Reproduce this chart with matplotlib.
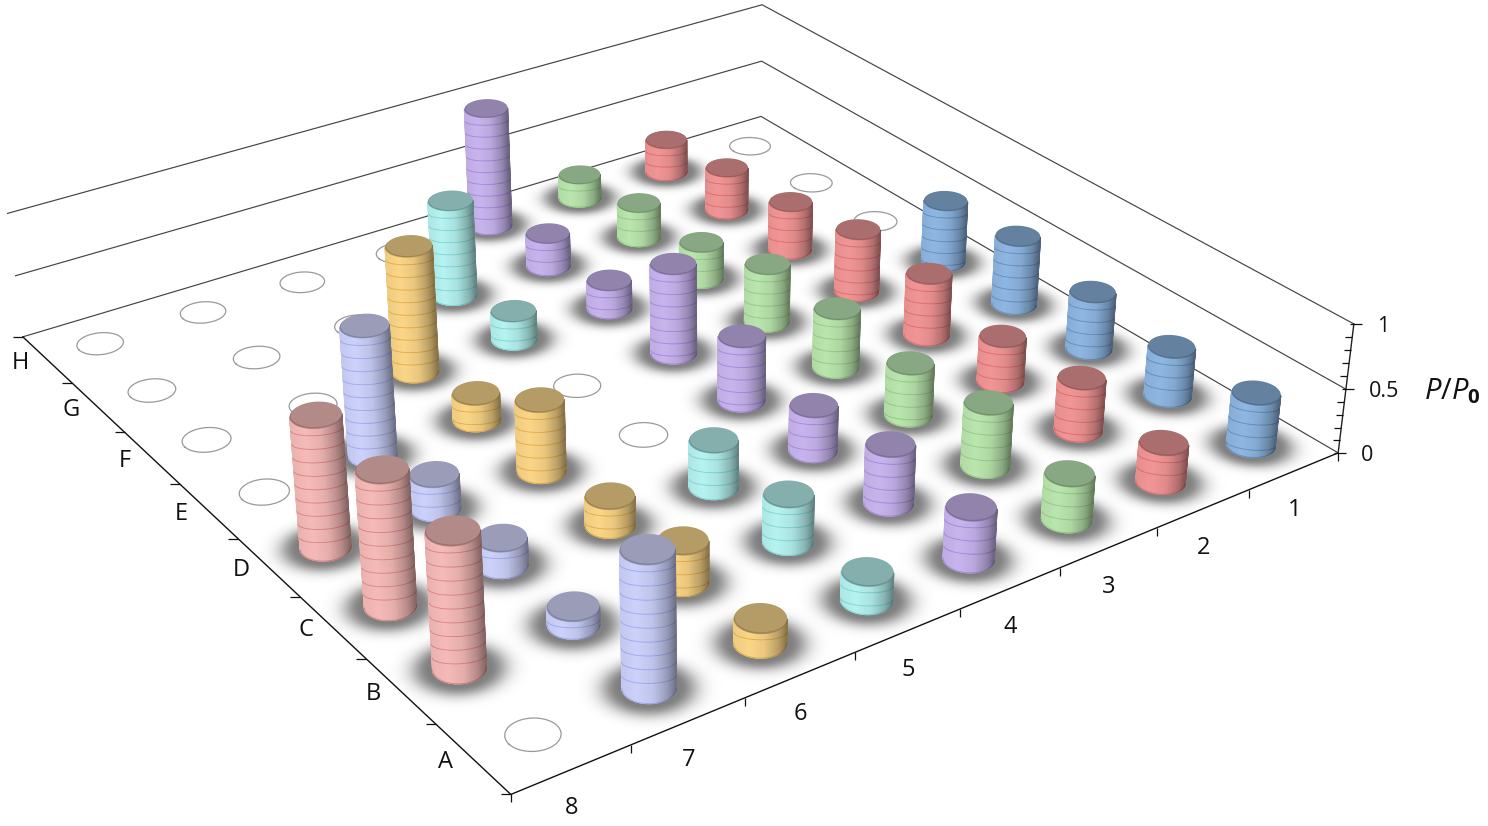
import numpy as np
import matplotlib
matplotlib.use("Agg")
import matplotlib.pyplot as plt
from matplotlib.collections import PolyCollection, LineCollection

plt.rcParams['font.family'] = ['Open Sans', 'DejaVu Sans']
plt.rcParams['mathtext.fontset'] = 'custom'
plt.rcParams['mathtext.it'] = 'Open Sans:italic'
plt.rcParams['mathtext.bf'] = 'Open Sans:bold'
plt.rcParams['mathtext.rm'] = 'Open Sans'

row_labels = ['A', 'B', 'C', 'D', 'E', 'F', 'G', 'H']
col_labels = ['1', '2', '3', '4', '5', '6', '7', '8']
z_major = [0, 0.5, 1]
z_major_labels = ['0', '0.5', '1']

# P/P0 per well, rows A to H, 0 = empty well
col1 = [0.41, 0.39, 0.46, 0.56, 0.51, 0, 0, 0]
col2 = [0.30, 0.41, 0.36, 0.50, 0.51, 0.40, 0.36, 0.28]
col3 = [0.35, 0.49, 0.41, 0.47, 0.47, 0.30, 0.29, 0.20]
col4 = [0.39, 0.45, 0.35, 0.51, 0.72, 0.23, 0.27, 0.99]
col5 = [0.21, 0.36, 0.36, 0, 0, 0.23, 0.78, 0]
col6 = [0.18, 0.31, 0.22, 0.55, 0.21, 1.00, 0, 0]
col7 = [0.99, 0.13, 0.20, 0.26, 1.00, 0, 0, 0]
col8 = [0, 0.99, 1.00, 0.99, 0, 0, 0, 0]
columns = [col1, col2, col3, col4, col5, col6, col7, col8]

# body, top, line colours of each column
body_colors = ['#8FB7E2', '#F29696', '#BBE6AE', '#C8B5EE', '#B6F3F1', '#FBD688', '#CCD2FB', '#F6BBB8']
top_colors = ['#64829F', '#AB6E6E', '#87A882', '#9183AC', '#85AFAC', '#B59B66', '#9A9CB8', '#B28B88']
line_colors = ['#5F8CC0', '#E06A6A', '#8FCC80', '#A585E0', '#78D6D3', '#E5AC40', '#9FA7F0', '#DE8080']

# camera calibration: box coordinates -> picture pixels
calib_world = np.array([[0, 0, 0], [0, 0, .5], [0, 0, 1], [0, 8, 0], [0, 8, .5], [0, 8, 1],
                        [8, 8, 0], [8, 8, .5], [8, 8, 1], [8, 0, 0],
                        [7.5, .5, 0], [7.5, 7.5, 0], [.5, 7.5, 0], [.5, 6.5, 0]], float)
calib_px = np.array([[1338, 453], [1346, 389], [1354, 324], [761, 116], [761.5, 61.5], [762, 5],
                     [23, 337], [15, 276], [7, 213], [511, 794],
                     [532.7, 735], [100, 344], [750.3, 146], [811.3, 182.7]], float)

rows = []
for (X, Y, Z), (u, v) in zip(calib_world, calib_px / 1000):
    rows.append([X, Y, Z, 1, 0, 0, 0, 0, -u * X, -u * Y, -u * Z, -u])
    rows.append([0, 0, 0, 0, X, Y, Z, 1, -v * X, -v * Y, -v * Z, -v])
P = np.linalg.svd(np.array(rows))[2][-1].reshape(3, 4)
P[:2] *= 1000
cam = np.linalg.svd(P)[2][-1]
cam = cam[:3] / cam[3]


def project(x, y, z):
    x, y, z = np.broadcast_arrays(x, y, z)
    h = P @ np.vstack([x.ravel(), y.ravel(), z.ravel(), np.ones(x.size)])
    return np.column_stack([h[0] / h[2], h[1] / h[2]])


def circle(x0, y0, z, r, th):
    return project(x0 + r * np.cos(th), y0 + r * np.sin(th), z)


def flatten(arc, k=0.5):
    # disc lines sag less than the rim
    a, b = arc[0], arc[-1]
    s = (arc[:, 0] - a[0]) / (b[0] - a[0])
    chord = a + np.outer(s, b - a)
    return chord + k * (arc - chord)


fig = plt.figure(figsize=(14.88, 8.26), dpi=100)
ax = fig.add_axes([0, 0, 1, 1])
ax.set_xlim(0, 1488)
ax.set_ylim(826, 0)
ax.axis('off')

# walls and floor edges
wall = []
for z in z_major:
    wall.append(project([8, 0, 0], [8, 8, 0], z))
ax.add_collection(LineCollection(wall, colors='#444444', linewidths=0.85, zorder=1))
edge = project([0, 8, 8], [0, 0, 8], 0)
ax.plot(edge[:, 0], edge[:, 1], color='#111111', lw=1.0, zorder=3)
zaxis = project([0, 0], [0, 0], [0, 1])
ax.plot(zaxis[:, 0], zaxis[:, 1], color='#222222', lw=1.0, zorder=3)

# ticks
segs = []
for k in range(9):
    a = project(k, 0, 0)[0]
    segs.append([a, a + [0, 8]])
    b = project(8, k, 0)[0]
    segs.append([b, b + [-10, 0]])
for k in range(11):
    a = project(0, 0, k / 10)[0]
    if k % 5 == 0:
        segs.append([a + [-4, 0], a + [8, 0]])
    else:
        segs.append([a, a + [-7, 0]])
ax.add_collection(LineCollection(segs, colors='#111111', linewidths=0.9, zorder=3))

for k, lab in enumerate(col_labels):
    a = project(k + .5, 0, 0)[0]
    ax.text(a[0], a[1] + 39, lab, fontsize=17, ha='center', va='center', color='#111111')
for k, lab in enumerate(row_labels):
    a = project(8, k + .5, 0)[0]
    ax.text(a[0] - 27, a[1] + 3, lab, fontsize=17, ha='center', va='center', color='#111111')
for z, lab in zip(z_major, z_major_labels):
    a = project(0, 0, z)[0]
    ax.text(a[0] + 23, a[1] + 2.5, lab, fontsize=15.5, ha='left', va='center', color='#111111')
ax.text(1452, 391, r'$P/P_{\mathbf{0}}$', fontsize=21, ha='center', va='center', color='#111111')

radius = 0.197
th_full = np.linspace(0, 2 * np.pi, 73)
shade_t = [0, 0.3, 0.6, 0.85, 1]
shade_f = [0.95, 1.0, 0.93, 0.74, 0.55]

# soft shadows: floor coordinates of every pixel, then distance to each loaded well
H_inv = np.linalg.inv(P[:, [0, 1, 3]])
px, py = np.meshgrid(np.arange(1488) + .5, np.arange(826) + .5)
fx = H_inv[0, 0] * px + H_inv[0, 1] * py + H_inv[0, 2]
fy = H_inv[1, 0] * px + H_inv[1, 1] * py + H_inv[1, 2]
fw = H_inv[2, 0] * px + H_inv[2, 1] * py + H_inv[2, 2]
fx, fy = fx / fw, fy / fw
keep = np.ones(px.shape)
for c, vals in enumerate(columns):
    for r, v in enumerate(vals):
        if v > 0:
            d = np.hypot(fx - c - .5, fy - r - .5)
            keep *= 1 - 0.5 * np.exp(-(np.maximum(d - 0.22, 0) / 0.14) ** 2)
shadow = np.zeros(px.shape + (4,))
shadow[..., 3] = 1 - keep
ax.imshow(shadow, extent=(0, 1488, 826, 0), interpolation='nearest', aspect='auto', zorder=2)
ax.set_xlim(0, 1488)
ax.set_ylim(826, 0)

# empty wells
for c, vals in enumerate(columns):
    for r, v in enumerate(vals):
        if v == 0:
            ring = circle(c + .5, r + .5, 0, 0.2, th_full)
            ax.plot(ring[:, 0], ring[:, 1], color='#9a9a9a', lw=0.9, zorder=3)

# cylinders, far ones first
n_strips = 36
wells = [(c, r, v) for c, vals in enumerate(columns) for r, v in enumerate(vals) if v > 0]
wells.sort(key=lambda w: -np.hypot(w[0] + .5 - cam[0], w[1] + .5 - cam[1]))
for i, (c, r, v) in enumerate(wells):
    x0, y0 = c + .5, r + .5
    zo = 10 + i
    body = np.array(matplotlib.colors.to_rgb(body_colors[c]))
    line_rgb = np.array(matplotlib.colors.to_rgb(line_colors[c]))
    phi = np.arctan2(cam[1] - y0, cam[0] - x0)
    th = phi + np.linspace(-np.pi / 2, np.pi / 2, n_strips + 1)
    low = circle(x0, y0, 0, radius, th)
    if low[0, 0] > low[-1, 0]:
        th = th[::-1]
        low = low[::-1]
    high = circle(x0, y0, v, radius, th)
    t = (low[:, 0] - low[:, 0].min()) / np.ptp(low[:, 0])
    f = np.interp(t, shade_t, shade_f)
    fm = .5 * (f[:-1] + f[1:])
    strips = [np.vstack([low[j], low[j + 1], high[j + 1], high[j]]) for j in range(n_strips)]
    strip_cols = [body * fm[j] for j in range(n_strips)]
    ax.add_collection(PolyCollection(strips, facecolors=strip_cols, edgecolors=strip_cols,
                                     linewidths=0.9, zorder=zo))
    # disc lines hang from the top face, shaded like the body
    levels = np.arange(v - 0.1, 0.005, -0.1)
    arcs = [flatten(circle(x0, y0, z, radius, th)) for z in levels] + [low, high]
    pieces, piece_cols = [], []
    for arc in arcs:
        for j in range(n_strips):
            pieces.append(arc[j:j + 2])
            piece_cols.append(line_rgb * fm[j])
    ax.add_collection(LineCollection(pieces, colors=piece_cols, linewidths=0.6, capstyle='butt', zorder=zo))
    dark = 0.85 * np.array(matplotlib.colors.to_rgb(top_colors[c]))
    ax.add_patch(plt.Polygon(circle(x0, y0, v, radius, th_full), fc=dark, ec='none', zorder=zo))
    ax.add_patch(plt.Polygon(circle(x0 - .012, y0 + .012, v, radius - .004, th_full),
                             fc=top_colors[c], ec='none', zorder=zo))

fig.savefig('out.png', dpi=100)
